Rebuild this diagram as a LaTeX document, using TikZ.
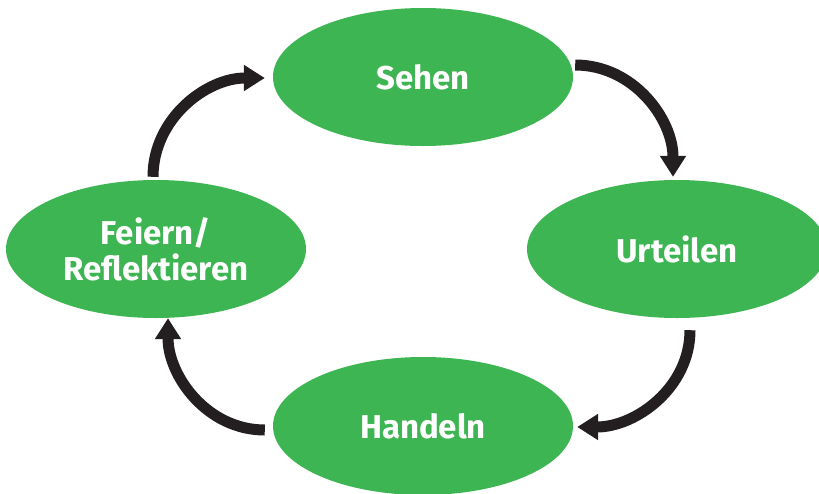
\documentclass[tikz,border=0pt]{standalone}
\usepackage{fontspec}
\setmainfont{Fira Sans}
\usetikzlibrary{arrows.meta,shapes.geometric}

\definecolor{kreisgruen}{RGB}{61,181,82}
\definecolor{pfeilschwarz}{RGB}{35,31,32}

\begin{document}
\begin{tikzpicture}[x=1pt,y=-1pt,
  station/.style={ellipse,fill=kreisgruen,minimum width=300pt,minimum height=138pt,inner sep=0pt,
    text=white,align=center,font=\bfseries\fontsize{33}{36}\selectfont},
  kreispfeil/.style={draw=pfeilschwarz,line width=11pt,
    -{Triangle[width=25pt,length=21pt]}}]
\clip (0,0) rectangle (819,493);

\node[station] (sehen) at (423,77) {Sehen};
\node[station] (urteilen) at (677,249) {Urteilen};
\node[station] (handeln) at (423,426) {Handeln};
\node[station] (feiern) at (156,249) {Feiern/\\Reflektieren};

\draw[kreispfeil] ([shift={(2,-12)}]sehen.east) to[out=0,in=90] ([shift={(-4,-3)}]urteilen.north);
\draw[kreispfeil] ([shift={(13,12)}]urteilen.south) to[out=-90,in=0] ([shift={(4,1)}]handeln.east);

\draw[kreispfeil] ([shift={(-8,4)}]handeln.west) to[out=180,in=-90] ([shift={(12,0)}]feiern.south);
\draw[kreispfeil] ([shift={(-3,-3)}]feiern.north) to[out=90,in=180] ([shift={(-8,1)}]sehen.west);

\end{tikzpicture}
\end{document}
